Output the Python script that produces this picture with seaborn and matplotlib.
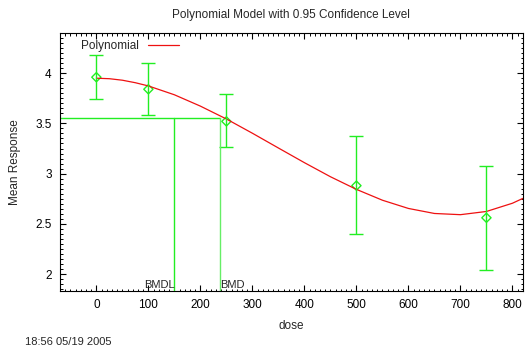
import numpy as np
import pandas as pd
import matplotlib
matplotlib.use("Agg")
import matplotlib.pyplot as plt
import seaborn as sns
from matplotlib.ticker import MultipleLocator

# observed group means with 95% confidence limits
dose = [0, 100, 250, 500, 750]
mean_resp = [3.96, 3.84, 3.52, 2.88, 2.56]
upper = [4.18, 4.10, 3.79, 3.37, 3.08]
lower = [3.74, 3.58, 3.26, 2.40, 2.04]

# fitted polynomial curve
curve_dose = [0, 25, 50, 75, 100, 150, 200, 250, 300, 350, 400, 450, 500,
              550, 600, 650, 700, 750, 800, 820]
curve_resp = [3.95, 3.945, 3.93, 3.905, 3.873, 3.785, 3.672, 3.544, 3.402, 3.255,
              3.109, 2.969, 2.843, 2.735, 2.653, 2.603, 2.591, 2.623, 2.705, 2.753]

bmr_level = 3.556
bmd = 237
bmdl = 150

sns.set_style("ticks")
plt.rcParams['font.family'] = ['Liberation Sans', 'DejaVu Sans']

fig = plt.figure(figsize=(5.26, 3.55), dpi=100)
ax = fig.add_axes([0.114, 0.180, 0.880, 0.727])

green = "#22ee22"
curve = pd.DataFrame({"dose": curve_dose, "resp": curve_resp})
sns.lineplot(data=curve, x="dose", y="resp", color="#ee1111", linewidth=0.9,
             ax=ax, label="Polynomial")

yerr = [np.subtract(mean_resp, lower), np.subtract(upper, mean_resp)]
ax.errorbar(dose, mean_resp, yerr=yerr, fmt="none", ecolor=green,
            elinewidth=1.0, capsize=5, capthick=1.0)
sns.scatterplot(x=dose, y=mean_resp, marker="D", s=22, facecolor="none",
                edgecolor=green, linewidth=1.0, ax=ax)

# BMD / BMDL lines
ax.plot([-70, bmd], [bmr_level, bmr_level], color=green, lw=1.0)
ax.plot([bmdl, bmdl], [1.83, bmr_level], color=green, lw=1.0)
ax.plot([bmd, bmd], [1.83, bmr_level], color="#66ee66", lw=1.0)
ax.text(bmdl, 1.845, "BMDL", ha="right", va="bottom", fontsize=8)
ax.text(bmd, 1.845, "BMD", ha="left", va="bottom", fontsize=8)

ax.set_xlim(-70, 820)
ax.set_ylim(1.83, 4.40)
ax.xaxis.set_major_locator(MultipleLocator(100))
ax.xaxis.set_minor_locator(MultipleLocator(10))
ax.yaxis.set_major_locator(MultipleLocator(0.5))
ax.yaxis.set_minor_locator(MultipleLocator(0.05))
ax.set_xticks([0, 100, 200, 300, 400, 500, 600, 700, 800])
ax.set_yticks([2, 2.5, 3, 3.5, 4])
ax.set_yticklabels(["2", "2.5", "3", "3.5", "4"])
ax.tick_params(which="both", direction="in", top=True, right=True,
               labelsize=8.5, colors="black", width=0.8)
ax.tick_params(which="major", length=4, pad=6)
ax.tick_params(which="minor", length=1.8, width=0.7)
for s in ax.spines.values():
    s.set_linewidth(0.8)
    s.set_color("black")

ax.set_xlabel("dose", fontsize=8.5, labelpad=6)
ax.set_ylabel("Mean Response", fontsize=8.5, labelpad=10)
ax.set_title("Polynomial Model with 0.95 Confidence Level", fontsize=8.5, pad=11)

leg = ax.legend(loc="upper left", frameon=False, fontsize=8.5,
                markerfirst=False, handlelength=2.6, borderaxespad=0.2,
                bbox_to_anchor=(0.03, 1.0))

fig.text(0.047, 0.022, "18:56 05/19 2005", fontsize=8, ha="left", va="bottom")

fig.savefig("out.png", dpi=100)
